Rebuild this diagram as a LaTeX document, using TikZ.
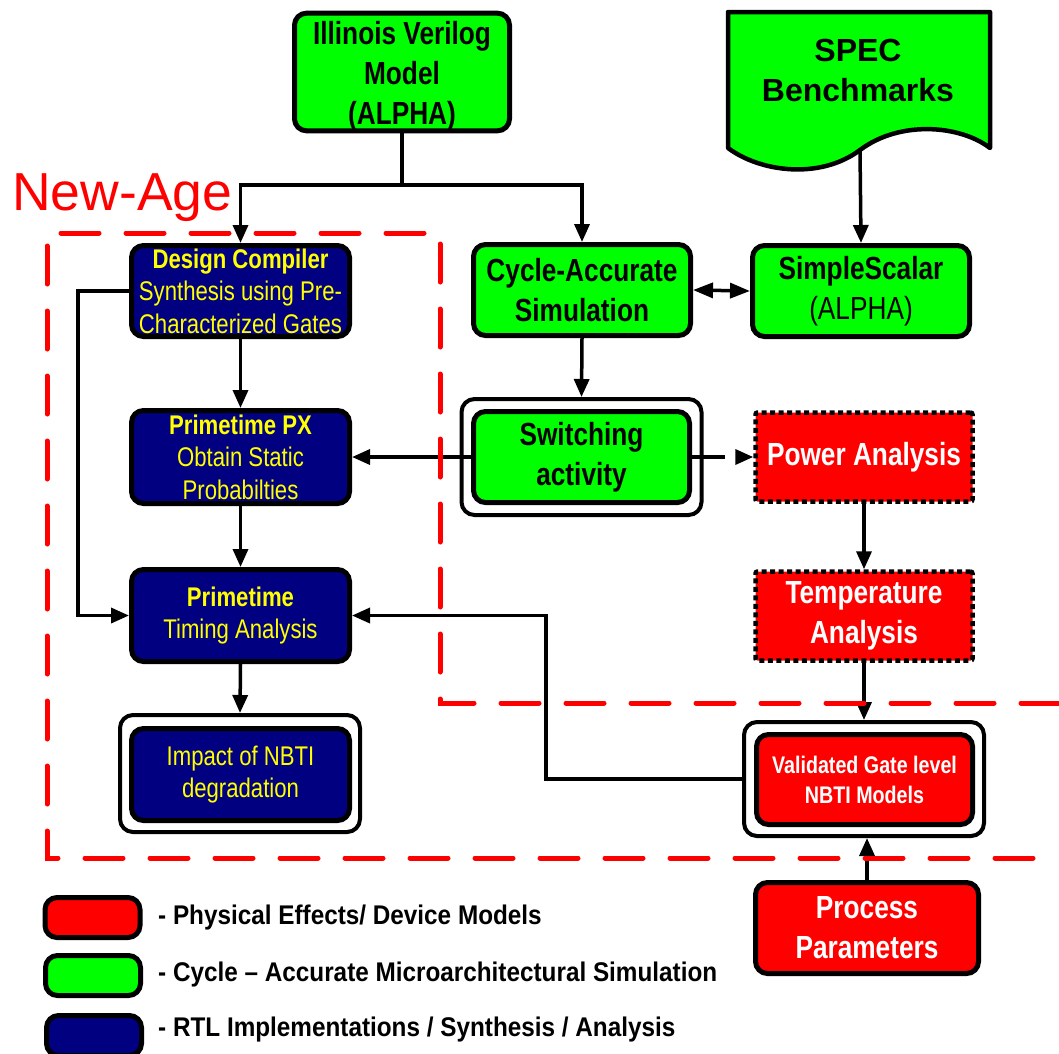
\documentclass[tikz,border=0pt]{standalone}
\usepackage{fontspec}
\setmainfont{Liberation Sans}
\newfontfamily\nar[FakeStretch=0.82]{Liberation Sans}
\newfontfamily\legf[FakeStretch=0.9]{Liberation Sans}
\usetikzlibrary{arrows.meta}
\definecolor{vgreen}{HTML}{00FF00}
\definecolor{vnavy}{HTML}{000080}
\definecolor{vred}{HTML}{FF0000}
\definecolor{vyellow}{HTML}{FFFF00}
\newcommand\setfs[2]{\fontsize{#1pt}{#2pt}\selectfont}
\begin{document}
\begin{tikzpicture}[x=1pt,y=-1pt,
  box/.style={draw=black, line width=5pt, rounded corners=12pt, align=center, inner sep=0pt},
  bluebox/.style={box, fill=vnavy, text=vyellow, font=\nar\setfs{27}{32.5}, minimum width=218pt, minimum height=92pt},
  greenbox/.style={box, fill=vgreen, text=black, font=\nar\bfseries\setfs{32}{40}, minimum width=217pt, minimum height=91pt},
  redbox/.style={box, fill=vred, text=white, font=\nar\bfseries\setfs{32}{40}, minimum width=217pt, minimum height=90pt},
  dotbox/.style={redbox, rounded corners=2pt, line width=4.5pt, dash pattern=on 5pt off 3.5pt, minimum height=89pt},
  framebox/.style={draw=black, line width=4pt, rounded corners=13pt, fill=white, inner sep=0pt, minimum width=240pt, minimum height=116pt},
  legbox/.style={box, minimum width=95pt, minimum height=40pt},
  legtext/.style={anchor=west, font=\legf\bfseries\setfs{27}{32}, inner sep=0pt},
  conn/.style={draw=black, line width=3.5pt, -{Triangle[length=18pt,width=15pt]}},
  region/.style={draw=vred, line width=5pt, line cap=round, dash pattern=on 38pt off 27pt}
]
\useasboundingbox (0,0) rectangle (1059,1053);

% top source
\node[greenbox, minimum width=215pt, minimum height=113pt] (ill) at (402,72) {\rule{0pt}{31pt}Illinois Verilog\\Model\\(ALPHA)};

% SPEC document shape
\draw[fill=vgreen, line width=4.5pt, line join=round]
  (728,12) -- (990,12) -- (990,148)
  .. controls (960,125) and (900,120) .. (860,150)
  .. controls (820,180) and (760,172) .. (728,148) -- cycle;
\coordinate (specb) at (860,150);
\node[font=\bfseries\setfs{32}{40}, align=center] (spec) at (858,70) {SPEC\\Benchmarks};

% New-Age label
\node[anchor=base west, text=vred, font=\setfs{53.5}{60}, inner sep=0pt] (newage) at (12,210) {New-Age};

% left column
\node[bluebox, minimum height=91pt] (dc) at (240.5,291) {\textbf{Design Compiler}\\Synthesis using Pre-\\Characterized Gates};
\node[bluebox, minimum height=93pt] (px) at (240.5,457) {\textbf{Primetime PX}\\Obtain Static\\Probabilties};
\node[bluebox] (pt) at (240.5,615.5) {\textbf{Primetime}\\Timing Analysis};
\node[framebox, minimum height=117pt] (impo) at (240,773.5) {};
\node[bluebox] (imp) at (240.5,774.5) {Impact of NBTI\\degradation};

% middle / right
\node[greenbox] (cyc) at (582,290) {Cycle-Accurate\\Simulation};
\node[greenbox] (ss) at (861,291) {SimpleScalar\\\mdseries(ALPHA)};
\node[framebox] (swo) at (581.5,457) {};
\node[greenbox, minimum width=216pt] (sw) at (581.5,457) {Switching\\activity};
\node[dotbox] (pw) at (864,457) {Power Analysis};
\node[dotbox] (tp) at (864,616) {Temperature\\Analysis};
\node[framebox, minimum height=114pt] (valo) at (864,779) {};
\node[redbox, minimum width=216pt, font=\nar\bfseries\setfs{24}{30}] (val) at (864.5,779.5) {Validated Gate level\\NBTI Models};
\node[redbox, minimum width=223pt, minimum height=91pt] (pp) at (867,928) {Process\\Parameters};

% connectors
\coordinate (jl) at (240.5,185);
\coordinate (jr) at (582,185);
\draw[conn] (ill.south) |- (jl) -- (dc.north);
\draw[conn] (ill.south) |- (jr) -- (cyc.north);
\draw[conn] (specb) -- (ss.north);
\draw[draw=black, line width=3.5pt, {Triangle[length=20pt,width=15pt]}-{Triangle[length=20pt,width=15pt]}] (cyc.east) -- (ss.west);
\draw[conn] (cyc.south) -- (swo.north);
\draw[conn] (sw.west) -- (px.east);
\draw[conn, dash pattern=on 33pt off 40pt] (sw.east) -- (pw.west);
\draw[conn] (pw.south) -- (tp.north);
\draw[conn] (tp.south) -- (valo.north);
\draw[conn] (pp.north) -- (pp.north |- valo.south);
\draw[conn] (dc.south) -- (px.north);
\draw[conn] (px.south) -- (pt.north);
\draw[conn] (pt.south) -- (impo.north);
\coordinate (lt) at (78,291);
\draw[conn] (dc.west) -- (lt) |- (pt.west);
\coordinate (vm) at (546,779);
\draw[conn] (valo.west) -- (vm) |- (pt.east);

% New-Age region
\draw[region] (1059,703) -- (440,703) -- (440,233) -- (47,233) -- (47,858) -- (1045,858);

% legend
\node[legbox, fill=vred] (lr) at (92.5,917.5) {};
\node[legbox, fill=vgreen] (lg) at (93,975.5) {};
\node[legbox, fill=vnavy] (lb) at (94,1035.5) {};
\node[legtext] (tr) at (158,917) {- Physical Effects/ Device Models};
\node[legtext] (tg) at (158,974) {- Cycle – Accurate Microarchitectural Simulation};
\node[legtext] (tb) at (158,1029) {- RTL Implementations / Synthesis / Analysis};
\end{tikzpicture}
\end{document}
